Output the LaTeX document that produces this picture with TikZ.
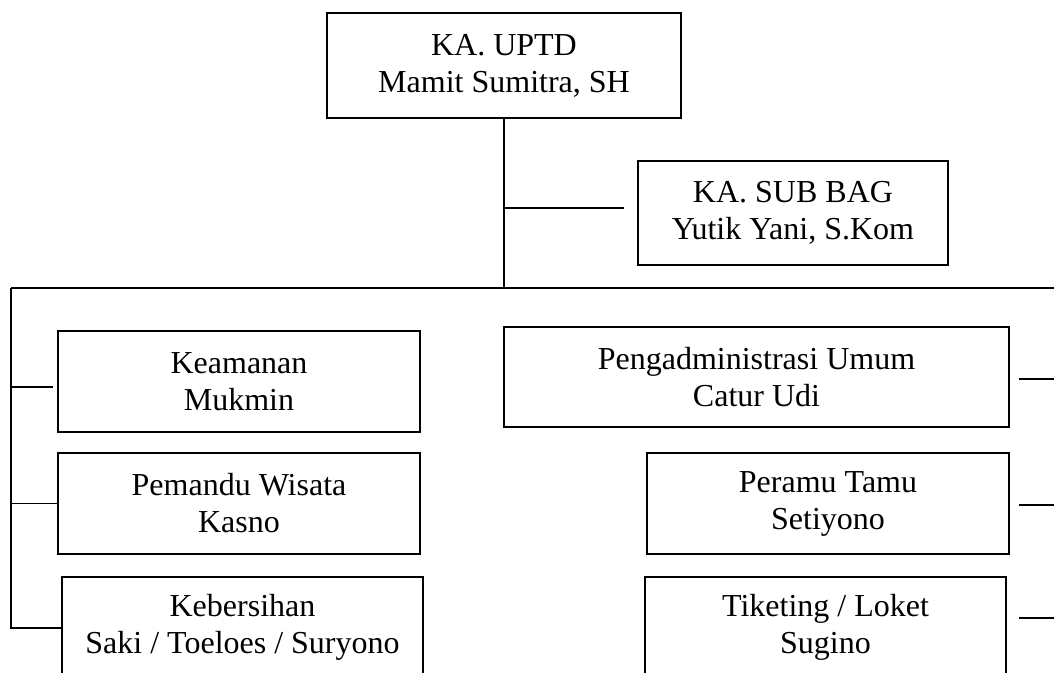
\documentclass[tikz,border=0pt]{standalone}
\usepackage{fontspec}
\setmainfont{Liberation Serif}
\usepackage{tikz}
\usetikzlibrary{calc}

\begin{document}
\begin{tikzpicture}[x=0.5pt,y=-0.5pt,line width=0.7pt,
    jabatan/.style={rectangle,draw,inner sep=0pt,outer sep=0pt,align=center,
        font=\fontsize{16}{18.5}\selectfont,minimum height=50.5pt}]
    \useasboundingbox (0,0) rectangle (1054,673);
    \clip (0,0) rectangle (1054,673);

    % Pimpinan
    \node[jabatan,minimum width=177pt,minimum height=52.5pt] (uptd) at (504,65.5) {KA. UPTD\\Mamit Sumitra, SH};
    \node[jabatan,minimum width=155pt,minimum height=52pt] (subbag) at (793,213) {KA. SUB BAG\\Yutik Yani, S.Kom};

    % Staf kiri
    \node[jabatan,minimum width=181pt] (keamanan) at (239,381.5) {Keamanan\\Mukmin};
    \node[jabatan,minimum width=181pt] (pemandu) at (239,503.5) {Pemandu Wisata\\Kasno};
    \node[jabatan,minimum width=180.5pt] (kebersihan) at (242.5,627.5) {Kebersihan\\Saki / Toeloes / Suryono};

    % Staf kanan
    \node[jabatan,minimum width=252.5pt,minimum height=50pt] (umum) at (756.5,377) {Pengadministrasi Umum\\Catur Udi};
    \node[jabatan,minimum width=181pt] (peramu) at (828,503.5) {Peramu Tamu\\Setiyono};
    \node[jabatan,minimum width=180.5pt] (tiketing) at (825.5,627.5) {Tiketing / Loket\\Sugino};

    % Garis komando
    \coordinate (busL) at (11,288);
    \coordinate (busR) at (1054,288);
    \coordinate (sbEnd) at (624,208);
    \draw (uptd.south) -- (uptd.south |- busL);
    \draw (uptd.south |- sbEnd) -- (sbEnd);
    \draw (busL) -- (busR);

    % Cabang kiri
    \coordinate (spineL) at (11,628);
    \coordinate (kmEnd) at (53,387);
    \draw (busL) -- (spineL) -- (kebersihan.west |- spineL);
    \draw (busL |- kmEnd) -- (kmEnd);
    \draw (busL |- pemandu) -- (pemandu.west);

    % Cabang kanan
    \coordinate (umA) at (1019,379);  \coordinate (umB) at (1054,379);
    \coordinate (prA) at (1019,505);  \coordinate (prB) at (1054,505);
    \coordinate (tkA) at (1019,618);  \coordinate (tkB) at (1054,618);
    \draw (umA) -- (umB);
    \draw (prA) -- (prB);
    \draw (tkA) -- (tkB);
\end{tikzpicture}
\end{document}
